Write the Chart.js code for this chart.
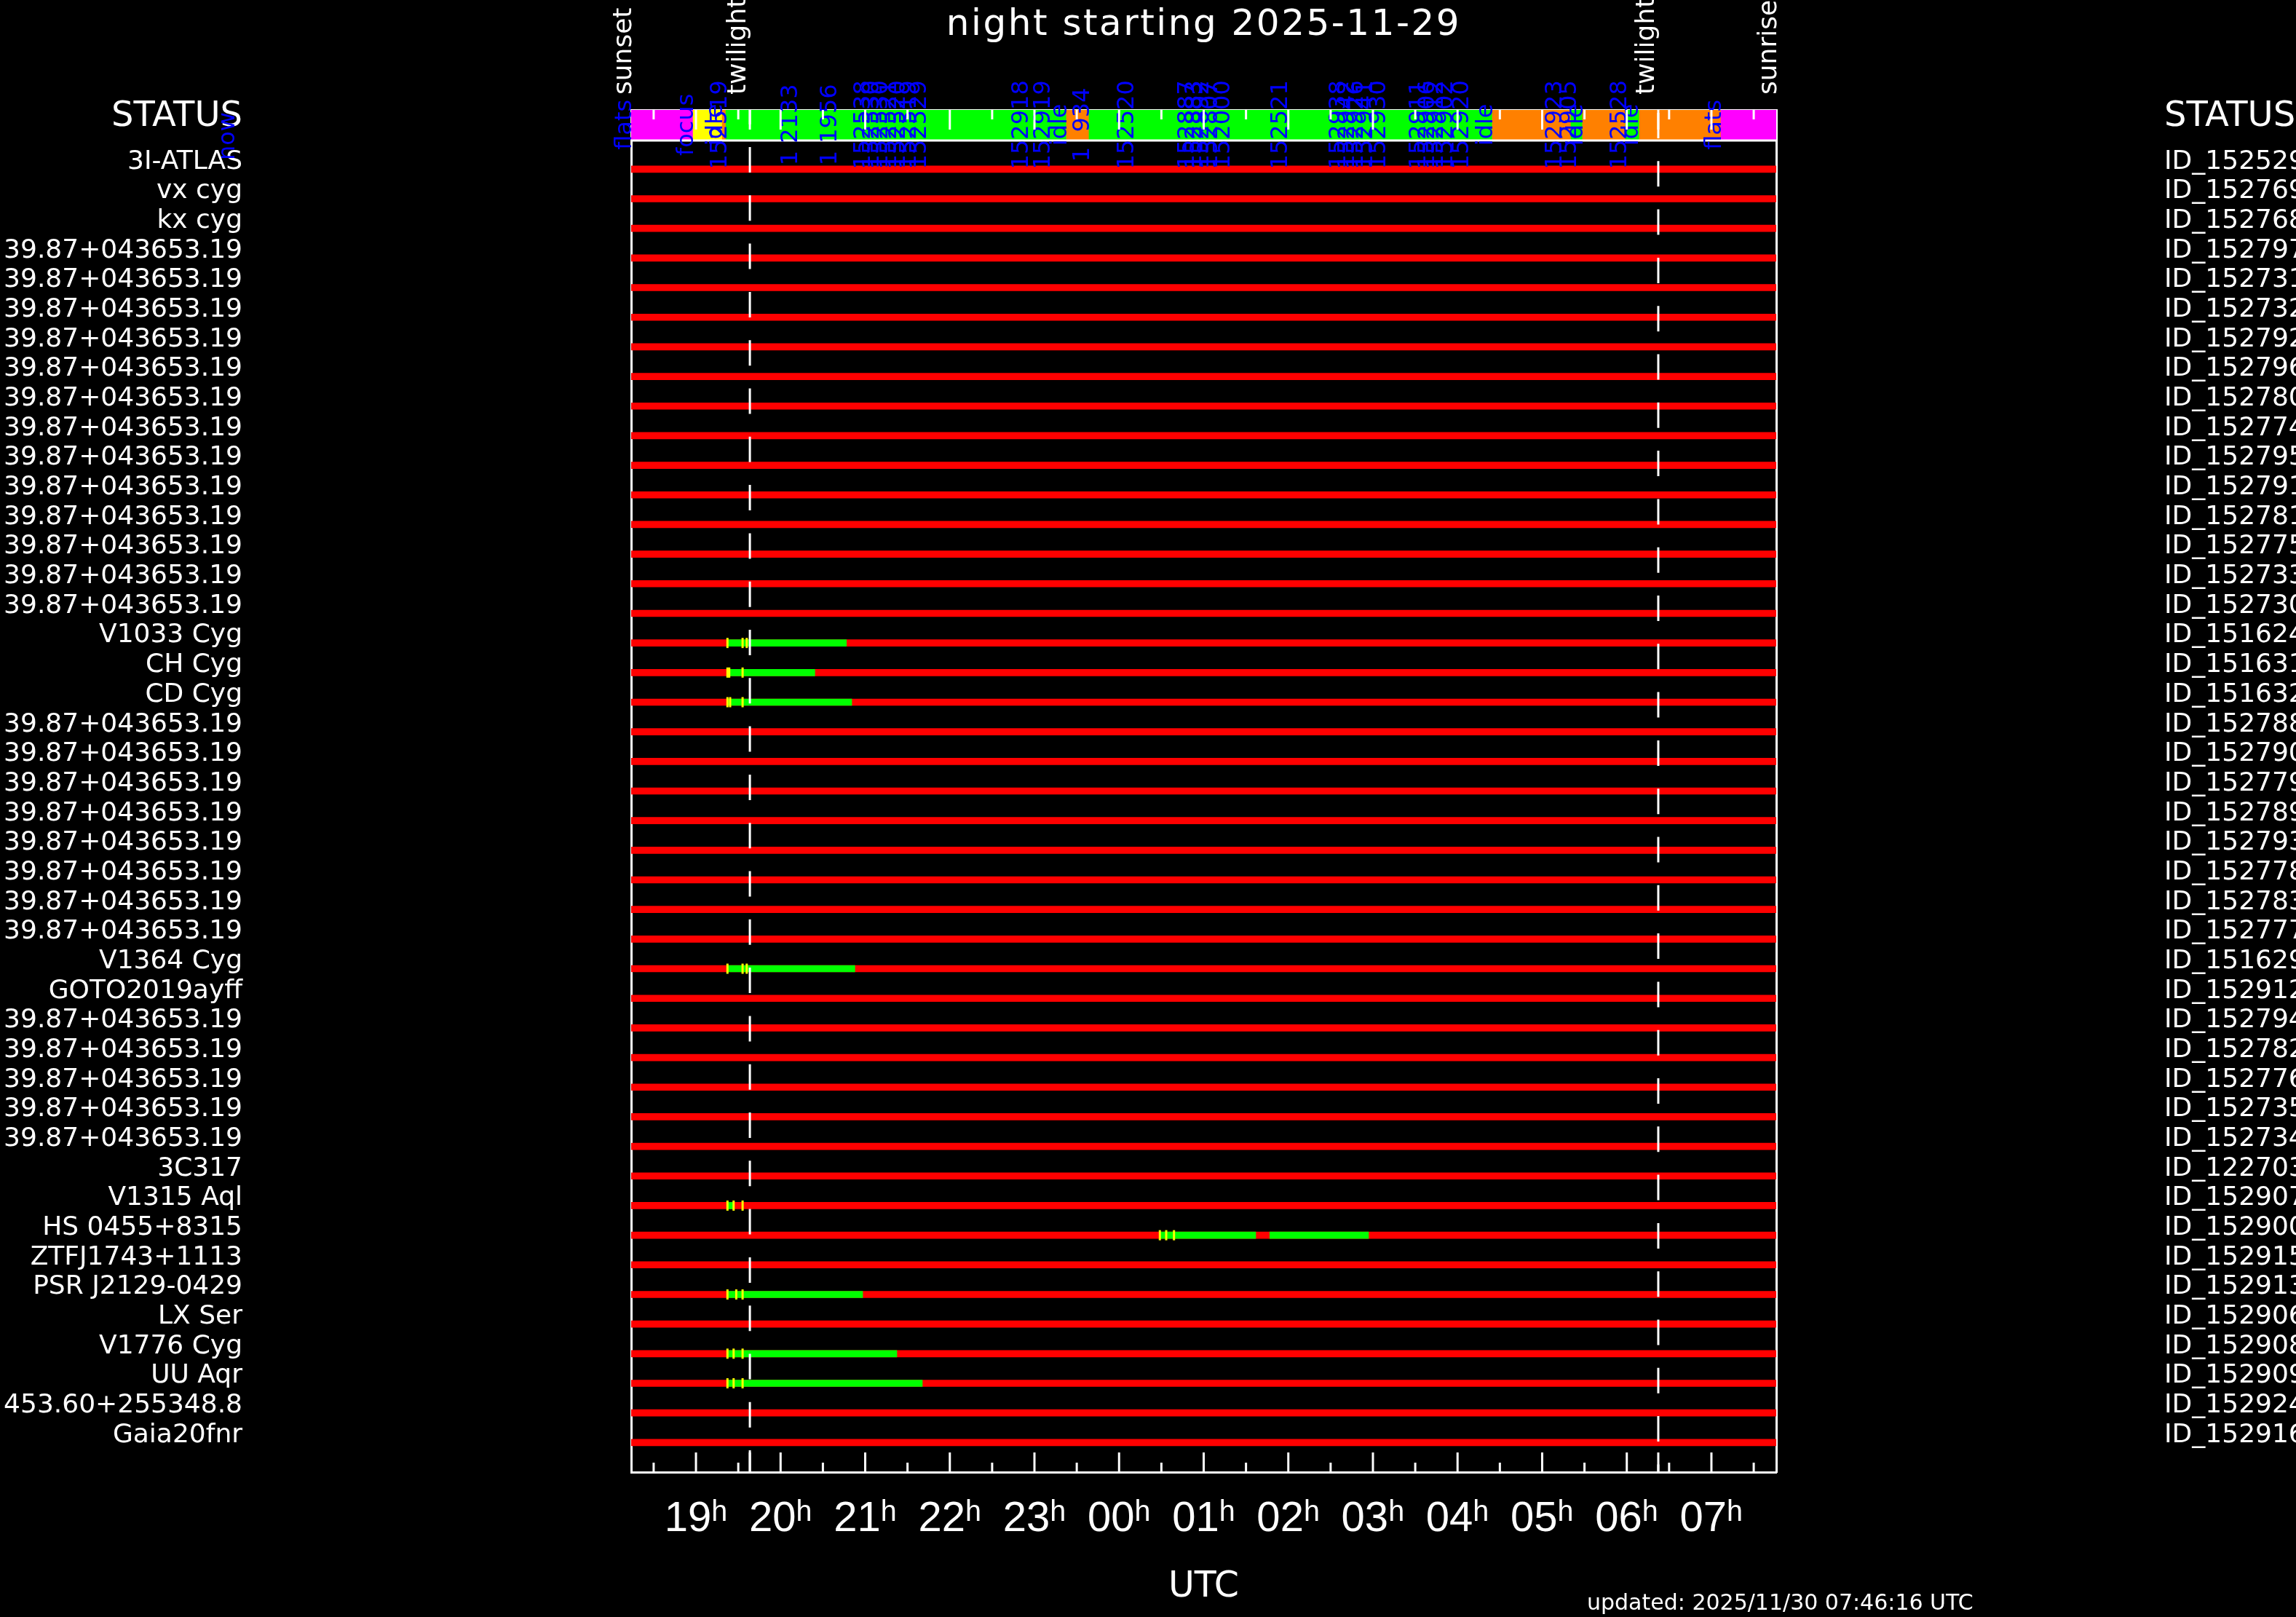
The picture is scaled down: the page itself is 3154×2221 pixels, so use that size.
<!DOCTYPE html>
<html><head><meta charset="utf-8">
<script src="https://cdn.jsdelivr.net/npm/chart.js@4/dist/chart.umd.min.js"></script>
<style>html,body{margin:0;padding:0;background:#000;overflow:hidden}canvas{display:block}</style>
</head><body>
<canvas id="c" width="3154" height="2221"></canvas>
<script>
// ---------------- data ----------------
const TITLE = 'night starting 2025-11-29';
const UPDATED = 'updated: 2025/11/30 07:46:16 UTC';
const X_TITLE = 'UTC';
const STATUS_LABEL = 'STATUS';
// times are decimal hours counted from 00h of the starting date
const SUNSET = 18.234;
const SUNRISE = 31.766;
const TWILIGHT = [19.637, 30.372];
const NOW_MARK = 13.546;
const HOURS = [19, 20, 21, 22, 23, 24, 25, 26, 27, 28, 29, 30, 31];
const HOUR_LABELS = ['19ʰ', '20ʰ', '21ʰ', '22ʰ', '23ʰ', '00ʰ', '01ʰ', '02ʰ', '03ʰ', '04ʰ', '05ʰ', '06ʰ', '07ʰ'];
const HALF_HOURS = [18.5, 19.5, 20.5, 21.5, 22.5, 23.5, 24.5, 25.5, 26.5, 27.5, 28.5, 29.5, 30.5, 31.5];

const TARGETS = [
  '3I-ATLAS', 'vx cyg', 'kx cyg',
  '39.87+043653.19', '39.87+043653.19', '39.87+043653.19', '39.87+043653.19', '39.87+043653.19',
  '39.87+043653.19', '39.87+043653.19', '39.87+043653.19', '39.87+043653.19', '39.87+043653.19',
  '39.87+043653.19', '39.87+043653.19', '39.87+043653.19',
  'V1033 Cyg', 'CH Cyg', 'CD Cyg',
  '39.87+043653.19', '39.87+043653.19', '39.87+043653.19', '39.87+043653.19',
  '39.87+043653.19', '39.87+043653.19', '39.87+043653.19', '39.87+043653.19',
  'V1364 Cyg', 'GOTO2019ayff',
  '39.87+043653.19', '39.87+043653.19', '39.87+043653.19', '39.87+043653.19', '39.87+043653.19',
  '3C317', 'V1315 Aql', 'HS 0455+8315', 'ZTFJ1743+1113', 'PSR J2129-0429', 'LX Ser',
  'V1776 Cyg', 'UU Aqr', '453.60+255348.8', 'Gaia20fnr'
];
const IDS = [
  'ID_152529', 'ID_152769', 'ID_152768', 'ID_152797', 'ID_152731', 'ID_152732', 'ID_152792',
  'ID_152796', 'ID_152780', 'ID_152774', 'ID_152795', 'ID_152791', 'ID_152781', 'ID_152775',
  'ID_152733', 'ID_152730', 'ID_151624', 'ID_151631', 'ID_151632', 'ID_152788', 'ID_152790',
  'ID_152779', 'ID_152789', 'ID_152793', 'ID_152778', 'ID_152783', 'ID_152777', 'ID_151629',
  'ID_152912', 'ID_152794', 'ID_152782', 'ID_152776', 'ID_152735', 'ID_152734', 'ID_122703',
  'ID_152907', 'ID_152900', 'ID_152915', 'ID_152913', 'ID_152906', 'ID_152908', 'ID_152909',
  'ID_152924', 'ID_152916'
];

// observed (green) segments
const OBS_ROWS  = [16, 17, 18, 27, 35, 36, 36, 38, 40, 41];
const OBS_START = [19.378, 19.378, 19.378, 19.378, 19.378, 24.482, 25.781, 19.378, 19.378, 19.378];
const OBS_END   = [20.778, 20.405, 20.841, 20.878, 19.445, 25.615, 26.948, 20.970, 21.374, 21.675];

// exposure markers (yellow)
const MARK_ROWS = [16, 16, 16, 17, 17, 17, 18, 18, 18, 27, 27, 27, 35, 35, 35,
                   36, 36, 36, 38, 38, 38, 40, 40, 40, 41, 41, 41];
const MARK_T    = [19.372, 19.551, 19.600, 19.372, 19.393, 19.551, 19.372, 19.404, 19.551,
                   19.372, 19.551, 19.600, 19.372, 19.445, 19.551,
                   24.482, 24.557, 24.649, 19.372, 19.476, 19.551,
                   19.372, 19.445, 19.551, 19.372, 19.445, 19.551];

// telescope state strip
const STRIP_START = [18.234, 18.966, 19.310, 19.353, 23.378, 23.645, 28.411, 29.340, 29.477, 29.985, 30.148, 31.112];
const STRIP_END   = [18.966, 19.310, 19.353, 23.378, 23.645, 28.411, 29.340, 29.477, 29.985, 30.148, 31.112, 31.766];
const STRIP_STATE = ['flats', 'focus', 'idle', 'observing', 'idle', 'observing', 'idle', 'observing', 'idle', 'observing', 'idle', 'flats'];
const STATE_COLORS = { flats: '#ff00ff', focus: '#ffff00', observing: '#00ff00', idle: '#ff8000' };

const STRIP_LABEL_T = [18.234, 18.966, 19.310, 19.360, 20.196, 20.660,
  21.056, 21.159, 21.262, 21.366, 21.469, 21.598, 21.718,
  22.923, 23.181, 23.378, 23.645, 24.170,
  24.884, 24.970, 25.056, 25.159, 25.305, 25.985,
  26.673, 26.776, 26.880, 26.990, 27.146,
  27.619, 27.723, 27.826, 27.938, 28.127,
  28.411, 29.228, 29.400, 29.477, 29.994, 30.131, 31.112];
const STRIP_LABEL_TEXT = ['flats', 'focus', 'idle', '152519', '1 2133', '1 1956',
  '152538', '152530', '152530', '152521', '152520', '152519', '152529',
  '152918', '152919', 'idle', '1  934', '152520',
  '152887', '152883', '152892', '152807', '152000', '152521',
  '152938', '152942', '152926', '152941', '152930',
  '152911', '152906', '152912', '152902', '152920',
  'idle', '152923', '152905', 'idle', '152528', 'idle', 'flats'];
const EVENT_T = [SUNSET, TWILIGHT[0], TWILIGHT[1], SUNRISE];
const EVENT_TEXT = ['sunset', 'twilight', 'twilight', 'sunrise'];

// ---------------- layout constants ----------------
const Y_MIN = -2, Y_MAX = 44;
const STRIP_ROW = -1.49, STRIP_BOTTOM = -0.97, STRIP_MID = -1.5;
const FONT = 'DejaVu Sans';

const rows = TARGETS.map((_, i) => i);
const redData = rows.map(i => ({ x: [SUNSET, SUNRISE], y: i }));
const greenData = OBS_ROWS.map((r, i) => ({ x: [OBS_START[i], OBS_END[i]], y: r }));
const markData = MARK_ROWS.map((r, i) => ({ x: MARK_T[i], y: r }));
const stripData = STRIP_START.map((s, i) => ({ x: [s, STRIP_END[i]], y: STRIP_ROW }));

const decor = {
  id: 'decor',
  beforeDraw(chart) {
    const ctx = chart.ctx;
    ctx.save(); ctx.fillStyle = '#000'; ctx.fillRect(0, 0, chart.width, chart.height); ctx.restore();
  },
  afterDatasetsDraw(chart) {
    const ctx = chart.ctx, xs = chart.scales.x, ys = chart.scales.y, a = chart.chartArea;
    ctx.save();
    // strip bottom line
    ctx.strokeStyle = '#fff'; ctx.lineWidth = 3;
    const yb = ys.getPixelForValue(STRIP_BOTTOM);
    ctx.beginPath(); ctx.moveTo(a.left, yb); ctx.lineTo(a.right, yb); ctx.stroke();
    // blue strip labels
    ctx.fillStyle = '#0000ff'; ctx.font = '32px "' + FONT + '"';
    ctx.textAlign = 'center'; ctx.textBaseline = 'alphabetic';
    const ym = ys.getPixelForValue(STRIP_MID);
    STRIP_LABEL_T.forEach((t, i) => {
      ctx.save(); ctx.translate(xs.getPixelForValue(t), ym); ctx.rotate(-Math.PI / 2);
      ctx.fillText(STRIP_LABEL_TEXT[i], 0, 0); ctx.restore();
    });
    // tick marks (inside, top and bottom)
    ctx.strokeStyle = '#fff'; ctx.lineWidth = 3;
    const tick = (t, len) => {
      const x = xs.getPixelForValue(t);
      ctx.beginPath(); ctx.moveTo(x, a.bottom); ctx.lineTo(x, a.bottom - len);
      ctx.moveTo(x, a.top); ctx.lineTo(x, a.top + len); ctx.stroke();
    };
    HOURS.forEach(h => tick(h, 27));
    HALF_HOURS.forEach(h => tick(h, 13));
    TWILIGHT.forEach(h => tick(h, 27));
    ctx.restore();
  },
  afterDraw(chart) {
    const ctx = chart.ctx, xs = chart.scales.x, a = chart.chartArea;
    ctx.save();
    ctx.fillStyle = '#fff'; ctx.textBaseline = 'alphabetic';
    const cx = (a.left + a.right) / 2;
    ctx.textAlign = 'center';
    ctx.font = '50px "' + FONT + '"';
    ctx.letterSpacing = '2.5px';
    ctx.fillText(TITLE, cx, 48);
    ctx.letterSpacing = '0px';
    ctx.font = '49px "' + FONT + '"'; ctx.fillText(X_TITLE, cx, 2193);
    ctx.font = '48px "' + FONT + '"';
    ctx.textAlign = 'right'; ctx.fillText(STATUS_LABEL, a.left - 534, 173);
    ctx.textAlign = 'left'; ctx.fillText(STATUS_LABEL, a.right + 533, 173);
    ctx.font = '30px "' + FONT + '"'; ctx.fillText(UPDATED, 2180, 2211);
    // rotated event labels
    ctx.font = '36px "' + FONT + '"';
    EVENT_T.forEach((t, i) => {
      const off = EVENT_TEXT[i] === 'twilight' ? -6 : 0;
      ctx.save(); ctx.translate(xs.getPixelForValue(t) + off, 130); ctx.rotate(-Math.PI / 2);
      ctx.textAlign = 'left'; ctx.fillText(EVENT_TEXT[i], 0, 0); ctx.restore();
    });
    // "now" marker
    ctx.fillStyle = '#0000ff'; ctx.font = '32px "' + FONT + '"';
    ctx.save(); ctx.translate(xs.getPixelForValue(NOW_MARK), 220); ctx.rotate(-Math.PI / 2);
    ctx.textAlign = 'left'; ctx.fillText('now', 0, 0); ctx.restore();
    ctx.restore();
  }
};

const border = { display: true, color: '#fff', width: 3 };
const noGrid = { display: false, drawTicks: false, offset: false };
const fixPad = s => { s.paddingTop = 0; s.paddingBottom = 0; s.paddingLeft = 0; s.paddingRight = 0; };

new Chart(document.getElementById('c'), {
  type: 'bar',
  data: {
    datasets: [
      { type: 'bar', indexAxis: 'y', data: redData, backgroundColor: '#ff0000', barThickness: 9, grouped: false, borderWidth: 0, order: 10, xAxisID: 'x', yAxisID: 'y' },
      { type: 'bar', indexAxis: 'y', data: stripData, backgroundColor: STRIP_STATE.map(s => STATE_COLORS[s]), barThickness: 41, grouped: false, borderWidth: 0, order: 9, xAxisID: 'x', yAxisID: 'y' },
      { type: 'bar', indexAxis: 'y', data: greenData, backgroundColor: '#00ff00', barThickness: 9, grouped: false, borderWidth: 0, order: 8, xAxisID: 'x', yAxisID: 'y' },
      { type: 'scatter', data: markData, pointStyle: 'line', rotation: 90, pointRadius: 7, borderWidth: 3, borderColor: '#ffff00', order: 7, xAxisID: 'x', yAxisID: 'y' },
      { type: 'scatter', data: [{ x: TWILIGHT[0], y: Y_MIN }, { x: TWILIGHT[0], y: Y_MAX }], showLine: true, borderColor: '#fff', borderWidth: 3, borderDash: [35, 31.3], borderDashOffset: 15.3, pointRadius: 0, order: 6, xAxisID: 'x', yAxisID: 'y' },
      { type: 'scatter', data: [{ x: TWILIGHT[1], y: Y_MIN }, { x: TWILIGHT[1], y: Y_MAX }], showLine: true, borderColor: '#fff', borderWidth: 3, borderDash: [35, 31.3], borderDashOffset: 62.3, pointRadius: 0, order: 6, xAxisID: 'x', yAxisID: 'y' }
    ]
  },
  options: {
    responsive: false, animation: false, devicePixelRatio: 1, events: [],
    layout: { padding: 0 },
    plugins: { legend: { display: false }, tooltip: { enabled: false }, title: { display: false } },
    scales: {
      x: {
        type: 'linear', position: 'bottom', min: SUNSET, max: SUNRISE, offset: false, z: 1,
        afterBuildTicks: s => { s.ticks = HOURS.map(v => ({ value: v })); },
        ticks: { callback: v => HOUR_LABELS[HOURS.indexOf(v)], color: '#fff', font: { family: 'Liberation Sans', size: 58, lineHeight: 1 }, padding: 36, maxRotation: 0, minRotation: 0, autoSkip: false, includeBounds: false },
        grid: noGrid, border: border,
        afterFit: s => { fixPad(s); s.height = 199; }
      },
      xTop: {
        type: 'linear', position: 'top', min: SUNSET, max: SUNRISE, offset: false, z: 1,
        ticks: { display: false }, grid: noGrid, border: border,
        afterFit: s => { fixPad(s); s.height = 151; }
      },
      y: {
        type: 'linear', position: 'left', reverse: true, min: Y_MIN, max: Y_MAX, offset: false, beginAtZero: false, z: 1,
        afterBuildTicks: s => { s.ticks = rows.map(v => ({ value: v })); },
        ticks: { callback: v => TARGETS[v], color: '#fff', font: { family: FONT, size: 36, lineHeight: 1 }, padding: 534, labelOffset: -10, autoSkip: false, crossAlign: 'near' },
        grid: noGrid, border: border,
        afterFit: s => { fixPad(s); s.width = 867; }
      },
      yRight: {
        type: 'linear', position: 'right', reverse: true, min: Y_MIN, max: Y_MAX, offset: false, beginAtZero: false, z: 1,
        afterBuildTicks: s => { s.ticks = rows.map(v => ({ value: v })); },
        ticks: { callback: v => IDS[v], color: '#fff', font: { family: FONT, size: 36, lineHeight: 1 }, padding: 533, labelOffset: -10, autoSkip: false, crossAlign: 'near' },
        grid: noGrid, border: border,
        afterFit: s => { fixPad(s); s.width = 714; }
      }
    }
  },
  plugins: [decor]
});
</script>
</body></html>
